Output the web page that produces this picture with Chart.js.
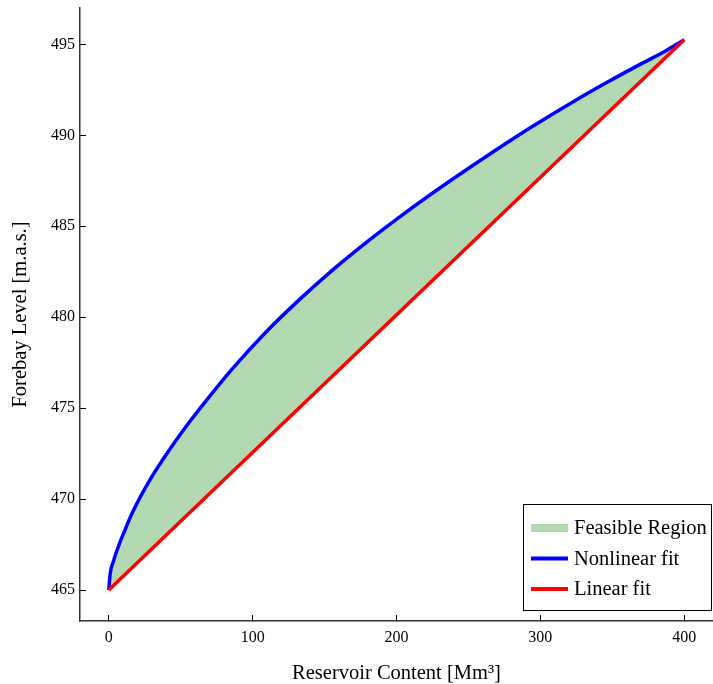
<!DOCTYPE html>
<html>
<head>
<meta charset="utf-8">
<script src="https://cdn.jsdelivr.net/npm/chart.js@4"></script>
<style>
  html, body { margin: 0; padding: 0; background: #fff; }
  #wrap { width: 713px; height: 684px; }
</style>
</head>
<body>
<div id="wrap"><canvas id="levelChart" width="713" height="684"></canvas></div>
<script>
// values
const contentNonlinear = [0, 1.0, 3.3, 6.8, 10.2, 16.7, 28.2, 42.1, 56.2, 70.1, 86.3, 109.5, 132.7, 155.9, 179.1, 201.1, 223.2, 257.9, 292.7, 322.9, 346.1, 369.3, 387.9, 400];
const levelNonlinear = [465, 465.9, 466.6, 467.42, 468.1, 469.3, 471.0, 472.7, 474.25, 475.65, 477.2, 479.2, 480.98, 482.62, 484.12, 485.45, 486.72, 488.6, 490.4, 491.85, 492.9, 493.9, 494.68, 495.25];
const contentLinear = [0, 400];
const levelLinear = [465, 495.25];
const xTicks = [0, 100, 200, 300, 400];
const yTicks = [465, 470, 475, 480, 485, 490, 495];
const legendLabels = ['Feasible Region', 'Nonlinear fit', 'Linear fit'];

const serif = '"Liberation Serif", "Times New Roman", serif';

const toPoints = (xs, ys) => xs.map((x, i) => ({ x: x, y: ys[i] }));

// legend box drawn inside the lower right corner of the plot
const boxLegend = {
    id: 'boxLegend',
    afterDraw(chart) {
        const ctx = chart.ctx;
        const area = chart.chartArea;
        const left = area.right - 190, top = area.bottom - 117;
        ctx.save();
        ctx.fillStyle = '#fff';
        ctx.fillRect(left, top, 189, 107);
        ctx.strokeStyle = '#000';
        ctx.lineWidth = 1;
        ctx.strokeRect(left + 0.5, top + 0.5, 188, 106);
        ctx.font = '20.5px ' + serif;
        ctx.textBaseline = 'middle';
        chart.data.datasets.forEach((ds, i) => {
            const y = top + 24 + i * 30.5;
            ctx.strokeStyle = ds.legendColor;
            ctx.lineWidth = ds.legendWidth;
            ctx.beginPath();
            ctx.moveTo(left + 8, y);
            ctx.lineTo(left + 45, y);
            ctx.stroke();
            ctx.fillStyle = '#000';
            ctx.fillText(legendLabels[i], left + 51, y + 1);
        });
        ctx.restore();
    }
};

new Chart(document.getElementById('levelChart'), {
    type: 'line',
    data: {
        datasets: [{
            label: legendLabels[0],
            data: toPoints(contentNonlinear, levelNonlinear),
            borderWidth: 0,
            borderColor: 'rgba(0,0,0,0)',
            backgroundColor: 'rgba(0,128,0,0.3)',
            fill: { target: 2 },
            cubicInterpolationMode: 'monotone',
            pointRadius: 0,
            order: 2,
            legendColor: 'rgba(0,128,0,0.3)',
            legendWidth: 8
        }, {
            label: legendLabels[1],
            data: toPoints(contentNonlinear, levelNonlinear),
            borderColor: '#0000ff',
            borderWidth: 3.5,
            fill: false,
            cubicInterpolationMode: 'monotone',
            pointRadius: 0,
            order: 1,
            legendColor: '#0000ff',
            legendWidth: 4
        }, {
            label: legendLabels[2],
            data: toPoints(contentLinear, levelLinear),
            borderColor: '#ff0000',
            borderWidth: 3.5,
            fill: false,
            pointRadius: 0,
            order: 0,
            legendColor: '#ff0000',
            legendWidth: 4
        }]
    },
    options: {
        responsive: false,
        animation: false,
        layout: { padding: { top: 8, right: 0, left: 0, bottom: 0 } },
        plugins: {
            legend: { display: false },
            tooltip: { enabled: false }
        },
        scales: {
            x: {
                type: 'linear',
                min: -20,
                max: 420,
                afterBuildTicks: s => { s.ticks = xTicks.map(v => ({ value: v })); },
                afterFit: s => { s.height = 63; s.paddingLeft = 0; s.paddingRight = 0; },
                grid: { display: true, drawOnChartArea: false, drawTicks: true, tickLength: -6, color: '#000' },
                border: { display: true, color: '#333', width: 1.5 },
                ticks: { color: '#000', padding: 13, maxRotation: 0, font: { family: serif, size: 16 } },
                title: { display: true, text: 'Reservoir Content [Mm³]', color: '#000', padding: { top: 0, bottom: -2 }, font: { family: serif, size: 20.5 } }
            },
            y: {
                type: 'linear',
                min: 463.3,
                max: 497,
                afterBuildTicks: s => { s.ticks = yTicks.map(v => ({ value: v })); },
                afterFit: s => { s.width = 80; s.paddingTop = 0; s.paddingBottom = 0; },
                grid: { display: true, drawOnChartArea: false, drawTicks: true, tickLength: -6, color: '#000' },
                border: { display: true, color: '#333', width: 1.5 },
                ticks: { color: '#000', padding: 11, font: { family: serif, size: 16 } },
                title: { display: true, text: 'Forebay Level [m.a.s.]', color: '#000', padding: { top: 8, bottom: 0 }, font: { family: serif, size: 20.5 } }
            }
        }
    },
    plugins: [boxLegend]
});
</script>
</body>
</html>
